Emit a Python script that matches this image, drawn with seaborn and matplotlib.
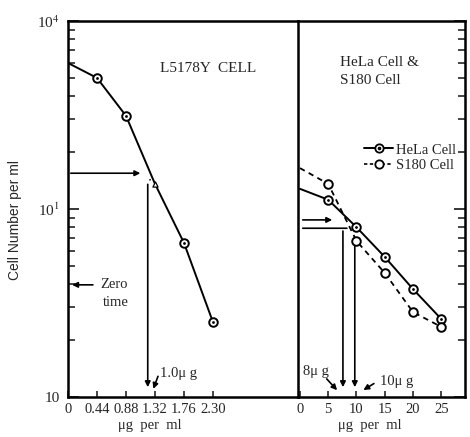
import numpy as np
import pandas as pd
import matplotlib
matplotlib.use("Agg")
import matplotlib.pyplot as plt
import seaborn as sns
from matplotlib.lines import Line2D
from matplotlib.legend_handler import HandlerTuple
from matplotlib.ticker import FixedLocator, FixedFormatter, LogLocator, NullFormatter

# ---------------- data ----------------
l5178y_dose = [0.0, 0.44, 0.88, 1.32, 1.76, 2.20]
l5178y_cells = [5.98e5, 4.98e5, 3.13e5, 1.36e5, 6.6e4, 2.5e4]
l5178y_marker_idx = [1, 2, 4, 5]
left_tick_pos = [0, 0.44, 0.88, 1.32, 1.76, 2.20]
left_tick_labels = ["0", "0.44", "0.88", "1.32", "1.76", "2.30"]

right_dose = [0, 5, 10, 15, 20, 25]
hela_cells = [1.28e5, 1.12e5, 8.0e4, 5.56e4, 3.75e4, 2.60e4]
s180_cells = [1.65e5, 1.36e5, 6.76e4, 4.57e4, 2.83e4, 2.36e4]
right_tick_pos = [0, 5, 10, 15, 20, 25]
right_tick_labels = ["0", "5", "10", "15", "20", "25"]

y_major = [1e4, 1e5, 1e6]
y_major_labels = ["10", "10$^{1}$", "10$^{4}$"]

zero_time_cells = 3.95e4
l5178y_half_level = 1.55e5
l5178y_half_dose = 1.21
hela_level = 7.9e4
s180_level = 8.75e4
dose_8 = 7.6
dose_10 = 9.7

# ---------------- figure ----------------
sns.set_style("ticks")
plt.rcParams['font.family'] = ['Liberation Serif', 'DejaVu Serif']
plt.rcParams['mathtext.fontset'] = 'stix'

W, H = 470, 437
fig = plt.figure(figsize=(W / 100, H / 100), dpi=100)

def fx(px):
    return px / W

def fy(py):
    return 1 - py / H

ax_l = fig.add_axes([fx(68), fy(397), fx(298) - fx(68), fy(21) - fy(397)])
ax_r = fig.add_axes([fx(298), fy(397), fx(465) - fx(298), fy(21) - fy(397)])

for ax in (ax_l, ax_r):
    ax.set_yscale('log')
    ax.set_ylim(1e4, 1e6)
    for s in ax.spines.values():
        s.set_linewidth(1.8)
        s.set_color('black')
    ax.yaxis.set_major_locator(FixedLocator(y_major))
    ax.yaxis.set_minor_locator(LogLocator(base=10, subs=np.arange(2, 10)))
    ax.yaxis.set_minor_formatter(NullFormatter())

ax_l.set_xlim(0, 3.49)
ax_r.set_xlim(-0.35, 29.2)
ax_l.spines['right'].set_visible(False)

# left axis ticks
ax_l.yaxis.set_major_formatter(FixedFormatter(y_major_labels))
ax_l.tick_params(axis='y', which='major', direction='in', length=8, width=1.3,
                 left=True, right=False, pad=6, labelsize=11)
ax_l.tick_params(axis='y', which='minor', direction='in', length=5, width=1.2,
                 left=True, right=False)
ax_l.set_xticks(left_tick_pos)
ax_l.set_xticklabels(left_tick_labels)
ax_l.tick_params(axis='x', direction='in', length=4, width=1.2, pad=4, labelsize=10.5)

# right axis ticks
ax_r.tick_params(axis='y', which='both', direction='in', left=False, right=True,
                 labelleft=False, labelright=False)
ax_r.tick_params(axis='y', which='major', length=8, width=1.3)
ax_r.tick_params(axis='y', which='minor', length=5, width=1.2)
ax_r.set_xticks(right_tick_pos)
ax_r.set_xticklabels(right_tick_labels)
ax_r.tick_params(axis='x', direction='in', length=4, width=1.2, pad=4, labelsize=10.5)

# ---------------- L5178Y ----------------
df_l = pd.DataFrame({"dose": l5178y_dose, "cells": l5178y_cells})
sns.lineplot(data=df_l, x="dose", y="cells", ax=ax_l, color='black', lw=1.4)
df_lm = df_l.iloc[l5178y_marker_idx]
sns.scatterplot(data=df_lm, x="dose", y="cells", ax=ax_l, s=38, facecolor='white',
                edgecolor='black', linewidth=1.4, zorder=5)
sns.scatterplot(data=df_lm, x="dose", y="cells", ax=ax_l, s=4, color='black',
                linewidth=0, zorder=6)
sns.scatterplot(data=df_l.iloc[[3]], x="dose", y="cells", ax=ax_l, s=14, marker='^',
                facecolor='white', edgecolor='black', linewidth=0.9, zorder=5)

# ---------------- HeLa & S180 ----------------
df_h = pd.DataFrame({"dose": right_dose, "cells": hela_cells})
df_s = pd.DataFrame({"dose": right_dose, "cells": s180_cells})
sns.lineplot(data=df_h, x="dose", y="cells", ax=ax_r, color='black', lw=1.4)
sns.lineplot(data=df_s, x="dose", y="cells", ax=ax_r, color='black', lw=1.3,
             linestyle=(0, (3, 2.5)))
sns.scatterplot(data=df_h.iloc[1:], x="dose", y="cells", ax=ax_r, s=38, facecolor='white',
                edgecolor='black', linewidth=1.4, zorder=5)
sns.scatterplot(data=df_h.iloc[1:], x="dose", y="cells", ax=ax_r, s=4, color='black',
                linewidth=0, zorder=6)
sns.scatterplot(data=df_s.iloc[1:], x="dose", y="cells", ax=ax_r, s=38, facecolor='white',
                edgecolor='black', linewidth=1.4, zorder=5)
for ax in (ax_l, ax_r):
    ax.set_xlabel("")
    ax.set_ylabel("")

# ---------------- annotations ----------------
arrow = dict(arrowstyle='-|>', color='black', lw=1.2, mutation_scale=8)
line = dict(arrowstyle='-', color='black', lw=1.2)

# left panel: horizontal arrow to curve, vertical arrow down
ax_l.annotate("", xy=(1.14, l5178y_half_level), xytext=(0, l5178y_half_level), arrowprops=arrow)
ax_l.annotate("", xy=(l5178y_half_dose, 1.09e4), xytext=(l5178y_half_dose, 1.40e5), arrowprops=arrow)
ax_l.annotate("", xy=(l5178y_half_dose + 0.07, 1.46e5), xytext=(l5178y_half_dose, 1.40e5), arrowprops=line)
# zero time
ax_l.annotate("", xy=(0.02, zero_time_cells), xytext=(0.42, zero_time_cells), arrowprops=arrow)
fig.text(fx(100), fy(285), "Zero", fontsize=10.5, va='center', ha='left')
fig.text(fx(103), fy(302), "time", fontsize=10.5, va='center', ha='left')
# 1.0 ug
fig.text(fx(160), fy(373), "1.0\u03bc g", fontsize=10.5, va='center', ha='left')
ax_l.annotate("", xy=(1.28, 1.07e4), xytext=(1.38, 1.33e4), arrowprops=arrow)

# right panel arrows
ax_r.annotate("", xy=(6.2, s180_level), xytext=(0, s180_level), arrowprops=arrow)
ax_r.annotate("", xy=(8.8, hela_level), xytext=(0, hela_level), arrowprops=line)
ax_r.annotate("", xy=(dose_8, 1.09e4), xytext=(dose_8, hela_level), arrowprops=arrow)
ax_r.annotate("", xy=(dose_10, 1.09e4), xytext=(dose_10, 6.6e4), arrowprops=arrow)
fig.text(fx(303), fy(372), "8\u03bc g", fontsize=10.5, va='center', ha='left')
ax_r.annotate("", xy=(6.9, 1.06e4), xytext=(4.4, 1.28e4), arrowprops=arrow)
fig.text(fx(380), fy(381), "10\u03bc g", fontsize=10.5, va='center', ha='left')
ax_r.annotate("", xy=(10.8, 1.07e4), xytext=(13.5, 1.2e4), arrowprops=arrow)

# titles
fig.text(fx(160), fy(68), "L5178Y  CELL", fontsize=11, va='center', ha='left')
fig.text(fx(340), fy(62), "HeLa Cell &", fontsize=11, va='center', ha='left')
fig.text(fx(340), fy(80), "S180 Cell", fontsize=11, va='center', ha='left')

# legend
h_hela = (Line2D([], [], color='black', lw=1.4, marker='o', mfc='white', mec='black',
                 ms=6, mew=1.3),
          Line2D([], [], ls='none', marker='o', color='black', ms=1.6))
h_s180 = Line2D([], [], color='black', lw=1.2, ls=(0, (2, 1.5)), marker='o', mfc='white',
                mec='black', ms=6, mew=1.3)
ax_r.legend([h_hela, h_s180], ["HeLa Cell", "S180 Cell"],
            handler_map={tuple: HandlerTuple(ndivide=1)},
            loc='upper left', bbox_to_anchor=(fx(357), fy(136)),
            bbox_transform=fig.transFigure, frameon=False, borderpad=0,
            handlelength=2.0, handletextpad=0.15, labelspacing=0.15,
            prop={'family': 'Liberation Serif', 'size': 10.5})

# axis labels
fig.text(fx(15), fy(220), "Cell Number per ml", rotation=90, fontsize=10,
         va='center', ha='center', family=['Liberation Sans', 'DejaVu Sans'])
fig.text(fx(150), fy(425), "\u03bcg  per  ml", fontsize=10.5, va='center', ha='center')
fig.text(fx(370), fy(425), "\u03bcg  per  ml", fontsize=10.5, va='center', ha='center')

fig.savefig("out.png", dpi=100)
